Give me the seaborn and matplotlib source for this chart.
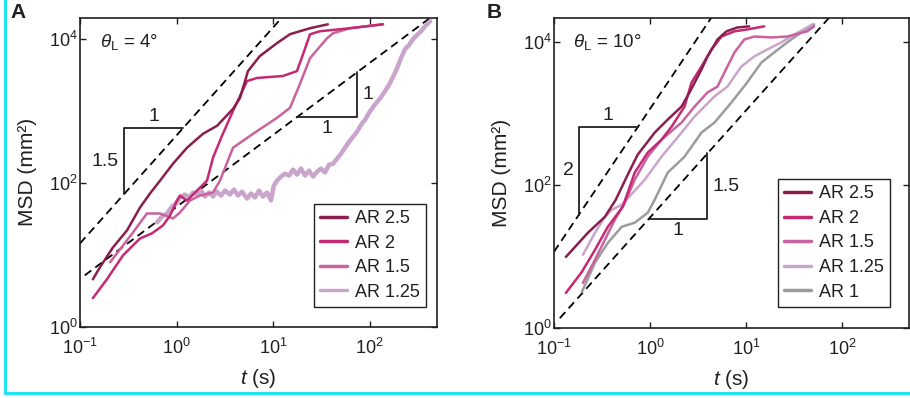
import numpy as np
import pandas as pd
import matplotlib
matplotlib.use("Agg")
import matplotlib.pyplot as plt
import seaborn as sns
from matplotlib.lines import Line2D
from matplotlib.ticker import NullLocator

# ---------------- data ----------------
# Panel A, theta_L = 4 deg
a_t_25 = [0.136, 0.161, 0.22, 0.307, 0.419, 0.531, 0.675, 0.92, 1.285, 1.88, 2.63, 3.85, 4.55, 5.5, 7.3, 11.0, 15.0, 24.2, 37.0]
a_m_25 = [4.6, 6.77, 12.8, 22.0, 45.8, 71.6, 108, 186, 310, 484, 625, 1075, 1525, 3600, 5820, 8810, 11730, 14200, 16100]

a_t_20 = [0.136, 0.19, 0.279, 0.419, 0.557, 0.724, 0.857, 1.01, 1.087, 1.285, 1.63, 2.07, 2.39, 2.96, 3.85, 5.38, 6.82, 12.7, 17.7, 20.5, 24.2, 30.7, 62.8, 138]
a_m_20 = [2.52, 4.6, 9.9, 17.0, 20.0, 25.8, 35.4, 57.0, 67.0, 57.0, 78.7, 108, 225, 454, 1007, 2620, 2890, 3080, 3600, 6200, 11700, 12900, 14200, 16100]

a_t_15 = [0.205, 0.279, 0.354, 0.494, 0.675, 0.92, 1.087, 1.38, 1.75, 2.388, 2.82, 3.85, 6.21, 11.0, 15.0, 19.0, 24.2, 36.3, 41.9, 62.8, 138]
a_m_15 = [7.94, 13.6, 20.6, 37.8, 37.8, 32.3, 39.1, 57.3, 67.1, 73.9, 108, 310, 484, 807, 1110, 2385, 5460, 10300, 12100, 14200, 16100]

a_t_125 = [0.628, 0.708, 0.798, 0.898, 0.989, 1.087, 1.225, 1.349, 1.483, 1.63, 1.795, 1.973, 2.173, 2.388, 2.63, 2.89,
           3.18, 3.58, 3.94, 4.34, 4.77, 5.38, 5.92, 6.5, 7.16, 7.87, 8.67, 9.53, 10.2, 11.0, 12.1, 13.3, 14.7, 16.1,
           17.7, 19.5, 21.5, 23.6, 26.0, 28.6, 31.4, 34.6, 38.0, 41.9, 46.0, 50.7, 55.7, 61.4, 67.5, 74.1, 81.7, 89.8,
           98.8, 109, 120, 132, 145, 159, 175, 193, 212, 233, 256, 282, 310, 342, 376, 424]
a_m_125 = [28.4, 34.4, 37.8, 47.3, 52.0, 63.0, 69.3, 63.0, 73.9, 69.3, 78.7, 65.0, 73.9, 65.0, 76.2, 67.1,
           78.7, 69.3, 81.3, 67.1, 76.2, 61.0, 71.6, 63.0, 78.7, 65.0, 73.9, 57.3, 92.3, 108, 123, 135, 127, 154,
           131, 159, 127, 149, 123, 144, 159, 140, 180, 186, 218, 256, 310, 375, 440, 516, 645, 757,
           946, 1145, 1343, 1574, 1906, 2307, 2979, 3970, 5460, 7270, 8260, 10000, 11360, 12900, 15130, 17750]

# Panel B, theta_L = 10 deg
b_t_25 = [0.133, 0.225, 0.339, 0.44, 0.586, 0.745, 1.12, 1.53, 2.13, 2.58, 3.44, 3.97, 5.05, 6.26, 8.14, 10.8]
b_m_25 = [9.9, 21.5, 36.1, 62.6, 140, 268, 546, 830, 1260, 1990, 4180, 6300, 11000, 14300, 16200, 16800]

b_t_20 = [0.133, 0.195, 0.267, 0.364, 0.521, 0.693, 0.946, 1.32, 1.68, 2.29, 2.71, 3.44, 4.37, 5.56, 7.59, 10.3, 15.5]
b_m_20 = [3.1, 6.1, 12.4, 26.2, 49.9, 150, 286, 435, 662, 1260, 2750, 4600, 7980, 12100, 14300, 15200, 16800]

b_t_15 = [0.2, 0.267, 0.339, 0.43, 0.546, 0.693, 0.946, 1.32, 2.13, 2.91, 3.97, 5.05, 6.41, 7.59, 9.62, 12.2, 18.4, 26.9, 43.4, 51.3]
b_m_15 = [4.28, 9.0, 17.2, 32.8, 56.8, 119, 251, 435, 754, 1260, 1990, 2410, 4600, 7240, 11000, 12100, 11750, 12100, 14300, 16800]

b_t_125 = [0.2, 0.267, 0.339, 0.4, 0.508, 0.881, 1.32, 2.13, 2.91, 4.7, 6.41, 8.96, 12.2, 16.7, 23.3, 31.8, 43.4, 49.0]
b_m_125 = [10.6, 21.5, 36.1, 45.3, 53.2, 119, 251, 546, 915, 1750, 2410, 4600, 6360, 7980, 10000, 12900, 16200, 17900]

b_t_10 = [0.195, 0.267, 0.364, 0.508, 0.693, 0.946, 1.12, 1.53, 2.29, 3.44, 4.7, 7.05, 10.3, 14.5, 19.7, 26.9, 37.6, 51.3]
b_m_10 = [3.2, 8.2, 15.6, 26.2, 29.8, 41.1, 62.6, 150, 251, 546, 754, 1440, 2750, 5240, 7240, 10000, 13800, 17900]

labels = ["AR 2.5", "AR 2", "AR 1.5", "AR 1.25", "AR 1"]
colors = ["#8a1f4f", "#c42a74", "#c9629e", "#c9a5cc", "#9a9c9e"]

# power-law guides: (prefactor, exponent, t_start, t_end)
guides_A = [(459.0, 1.5, 0.1, 15.0), (46.6, 1.0, 0.112, 500.0)]
guides_B = [(1170.0, 2.0, 0.1, 5.0), (35.2, 1.5, 0.115, 100.0)]
# slope triangles: (guide index, t1, t2, kind, label_h, label_v)
tri_A = [(0, 0.286, 1.17, "upper", "1", "1.5"), (1, 17.7, 74.0, "lower", "1", "1")]
tri_B = [(0, 0.182, 0.745, "upper", "1", "2"), (1, 0.97, 3.97, "lower", "1", "1.5")]

# ---------------- style ----------------
sns.set_style("ticks")
plt.rcParams['font.family'] = ['Liberation Sans', 'DejaVu Sans']
plt.rcParams['mathtext.fontset'] = 'custom'
plt.rcParams['mathtext.rm'] = 'Liberation Sans'
plt.rcParams['mathtext.it'] = 'Liberation Sans:italic'
plt.rcParams['mathtext.bf'] = 'Liberation Sans:bold'
INK = "#231f20"

fig = plt.figure(figsize=(9.1, 3.98), dpi=100)
axA = fig.add_axes([0.0879, 0.1784, 0.3923, 0.7776])
axB = fig.add_axes([0.6088, 0.1759, 0.3901, 0.7789])


def setup(ax, ymax):
    ax.set_xscale('log')
    ax.set_yscale('log')
    ax.set_xlim(0.1, 500)
    ax.set_ylim(1, ymax)
    ax.set_xticks([0.1, 1, 10, 100])
    ax.set_yticks([1, 100, 1e4])
    ax.xaxis.set_minor_locator(NullLocator())
    ax.yaxis.set_minor_locator(NullLocator())
    ax.tick_params(direction='in', top=True, right=True, length=4, width=1,
                   color=INK, labelsize=13, labelcolor=INK)
    ax.tick_params(axis='y', pad=1.5)
    ax.tick_params(axis='x', pad=7.5)
    for s in ax.spines.values():
        s.set_linewidth(1.2)
        s.set_color(INK)
    ax.set_xlabel(r'$t$ (s)', fontsize=15, labelpad=7, color=INK)
    ax.set_ylabel('MSD (mm²)', fontsize=15, labelpad=9, color=INK)


def guides(ax, gl, tris):
    for k, p, t0, t1 in gl:
        tt = np.array([t0, t1])
        ax.plot(tt, k * tt ** p, color='black', lw=1.3, ls=(0, (4.5, 2.8)), zorder=1)
    for gi, t1, t2, kind, lh, lv in tris:
        k, p = gl[gi][0], gl[gi][1]
        f1, f2 = k * t1 ** p, k * t2 ** p
        tm = np.sqrt(t1 * t2)
        fm = np.sqrt(f1 * f2)
        if kind == "upper":
            ax.plot([t1, t1, t2], [f1, f2, f2], color=INK, lw=1.3, zorder=1)
            ax.annotate(lh, (tm, f2), xytext=(0, 2), textcoords='offset points',
                        ha='center', va='bottom', fontsize=14, color=INK)
            ax.annotate(lv, (t1, fm), xytext=(-4, 0), textcoords='offset points',
                        ha='right', va='center', fontsize=14, color=INK)
        else:
            ax.plot([t1, t2, t2], [f1, f1, f2], color=INK, lw=1.3, zorder=1)
            ax.annotate(lh, (tm, f1), xytext=(0, -2), textcoords='offset points',
                        ha='center', va='top', fontsize=14, color=INK)
            ax.annotate(lv, (t2, fm), xytext=(4, 0), textcoords='offset points',
                        ha='left', va='center', fontsize=14, color=INK)


setup(axA, 2.0e4)
setup(axB, 2.2e4)

# Panel A curves (AR 1.25 drawn first, behind)
seriesA = [(a_t_125, a_m_125, 3, 3.2), (a_t_15, a_m_15, 2, 1.8), (a_t_20, a_m_20, 1, 1.8), (a_t_25, a_m_25, 0, 1.8)]
for t, m, ci, lw in seriesA:
    sns.lineplot(x=t, y=m, ax=axA, color=colors[ci], lw=lw, sort=False, estimator=None, legend=False, zorder=2)

seriesB = [(b_t_10, b_m_10, 4), (b_t_125, b_m_125, 3), (b_t_15, b_m_15, 2), (b_t_20, b_m_20, 1), (b_t_25, b_m_25, 0)]
for t, m, ci in seriesB:
    sns.lineplot(x=t, y=m, ax=axB, color=colors[ci], lw=1.8, sort=False, estimator=None, legend=False, zorder=2)

guides(axA, guides_A, tri_A)
guides(axB, guides_B, tri_B)

# theta labels
axA.text(0.056, 0.921, r'$\theta_\mathrm{L}$ = 4°', transform=axA.transAxes, fontsize=13.5,
         ha='left', va='center', color=INK)
axB.text(0.054, 0.923, r'$\theta_\mathrm{L}$ = 10°', transform=axB.transAxes, fontsize=13.5,
         ha='left', va='center', color=INK)


def legend(ax, n, anchor):
    handles = [Line2D([], [], color=colors[i], lw=2.5) for i in range(n)]
    lg = ax.legend(handles, labels[:n], loc='lower right', bbox_to_anchor=anchor,
                   borderaxespad=0, fancybox=False, frameon=True, fontsize=13,
                   handlelength=1.45, handletextpad=0.45, labelspacing=0.42,
                   borderpad=0.35)
    fr = lg.get_frame()
    fr.set_edgecolor(INK)
    fr.set_linewidth(1.0)
    fr.set_alpha(1)
    for txt in lg.get_texts():
        txt.set_color(INK)


legend(axA, 4, (0.969, 0.0646))
legend(axB, 5, (0.946, 0.068))

# panel letters
fig.text(0.0115, 0.969, 'A', fontsize=15, weight='bold', va='center', ha='left', color=INK)
fig.text(0.535, 0.969, 'B', fontsize=15, weight='bold', va='center', ha='left', color=INK)

# cyan frame edges
fig.add_artist(Line2D([0.005, 0.005], [0.0133, 1.0], transform=fig.transFigure, color='#22e5f0', lw=2.2))
fig.add_artist(Line2D([0.005, 1.0], [0.0133, 0.0133], transform=fig.transFigure, color='#22e5f0', lw=2.2))

fig.savefig("out.png", dpi=100)
